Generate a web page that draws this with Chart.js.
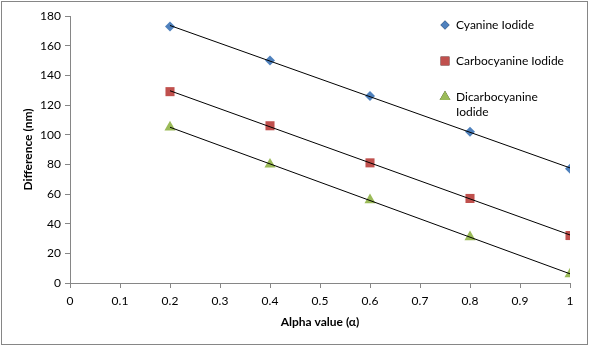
<!DOCTYPE html>
<html>
<head>
<meta charset="utf-8">
<script src="https://cdn.jsdelivr.net/npm/chart.js@4"></script>
<style>
  html, body { margin: 0; padding: 0; background: #fff; }
  #wrap { width: 589px; height: 346px; position: relative; }
</style>
</head>
<body>
<div id="wrap"><canvas id="chart" width="589" height="346"></canvas></div>
<script>
// values
const alphaValues = [0.2, 0.4, 0.6, 0.8, 1.0];
const cyanine = [173, 150, 126, 102, 77];
const carbocyanine = [129, 106, 81, 57, 32];
const dicarbocyanine = [105, 80, 56, 31, 6];

const seriesNames = ['Cyanine Iodide', 'Carbocyanine Iodide', 'Dicarbocyanine Iodide'];
const seriesColors = ['#4F81BD', '#C0504D', '#9BBB59'];
const seriesShapes = ['rectRot', 'rect', 'triangle'];
const seriesRadius = [5, 6.4, 6.4];

const FONT = 'Lato, "Open Sans", sans-serif';
const AXIS_GREY = '#868686';

function toPoints(ys) {
  return alphaValues.map((x, i) => ({ x: x, y: ys[i] }));
}

// least-squares trend line over the points, drawn from first to last x
function trendPoints(ys) {
  const n = alphaValues.length;
  const mx = alphaValues.reduce((a, b) => a + b, 0) / n;
  const my = ys.reduce((a, b) => a + b, 0) / n;
  let sxy = 0, sxx = 0;
  alphaValues.forEach((x, i) => { sxy += (x - mx) * (ys[i] - my); sxx += (x - mx) * (x - mx); });
  const slope = sxy / sxx;
  const x0 = alphaValues[0], x1 = alphaValues[n - 1];
  return [{ x: x0, y: my + slope * (x0 - mx) }, { x: x1, y: my + slope * (x1 - mx) }];
}

const allSeries = [cyanine, carbocyanine, dicarbocyanine];

const datasets = [];
allSeries.forEach((ys, i) => {
  datasets.push({
    label: seriesNames[i],
    data: toPoints(ys),
    showLine: false,
    pointStyle: seriesShapes[i],
    pointRadius: seriesRadius[i],
    pointBackgroundColor: seriesColors[i],
    pointBorderColor: seriesColors[i],
    pointBorderWidth: 0,
    order: 2
  });
});
allSeries.forEach((ys) => {
  datasets.push({
    label: 'trend',
    data: trendPoints(ys),
    showLine: true,
    borderColor: '#000',
    borderWidth: 1,
    pointRadius: 0,
    order: 1
  });
});

// legend drawn inside the plot, Excel style, with wrapped last entry
const legendPlugin = {
  id: 'sideLegend',
  afterDraw(chart) {
    const ctx = chart.ctx;
    ctx.save();
    ctx.font = '12px ' + FONT;
    ctx.fillStyle = '#000';
    ctx.textBaseline = 'middle';
    const entries = [
      { lines: ['Cyanine Iodide'], y: 25 },
      { lines: ['Carbocyanine Iodide'], y: 61 },
      { lines: ['Dicarbocyanine', 'Iodide'], y: 97 }
    ];
    entries.forEach((e, i) => {
      Chart.helpers.drawPoint(ctx, {
        pointStyle: seriesShapes[i],
        radius: i === 0 ? 4.5 : 6.2,
        rotation: 0
      }, 445, e.y);
      ctx.fillStyle = seriesColors[i];
      ctx.fill();
      ctx.fillStyle = '#000';
      e.lines.forEach((t, k) => ctx.fillText(t, 456, e.y + k * 15));
    });
    // outer frame
    ctx.strokeStyle = AXIS_GREY;
    ctx.lineWidth = 1;
    ctx.strokeRect(1.5, 1.5, 586, 343);
    ctx.restore();
  }
};

new Chart(document.getElementById('chart'), {
  type: 'scatter',
  data: { datasets: datasets },
  options: {
    responsive: false,
    animation: false,
    layout: { padding: { left: 0, right: 19, top: 16, bottom: 0 } },
    plugins: {
      legend: { display: false },
      tooltip: { enabled: false }
    },
    scales: {
      x: {
        type: 'linear',
        min: 0,
        max: 1,
        afterFit(scale) { scale.height = 63; },
        border: { display: true, color: AXIS_GREY, width: 1 },
        grid: { display: true, drawOnChartArea: false, drawTicks: true, tickLength: 5, color: AXIS_GREY },
        ticks: {
          stepSize: 0.1,
          color: '#000',
          font: { family: FONT, size: 12 },
          padding: 6,
          maxRotation: 0,
          callback: v => String(Math.round(v * 10) / 10)
        },
        title: {
          display: true,
          text: 'Alpha value (\u03b1)',
          color: '#000',
          font: { family: FONT, size: 12, weight: 'bold' },
          padding: { top: 0, bottom: 17 }
        }
      },
      y: {
        min: 0,
        max: 180,
        afterFit(scale) { scale.width = 70; },
        border: { display: true, color: AXIS_GREY, width: 1 },
        grid: { display: true, drawOnChartArea: false, drawTicks: true, tickLength: 5, color: AXIS_GREY },
        ticks: {
          stepSize: 20,
          color: '#000',
          font: { family: FONT, size: 12 },
          padding: 4
        },
        title: {
          display: true,
          text: 'Difference (nm)',
          color: '#000',
          font: { family: FONT, size: 12, weight: 'bold' },
          padding: { top: 21, bottom: 0 }
        }
      }
    }
  },
  plugins: [legendPlugin]
});
</script>
</body>
</html>
